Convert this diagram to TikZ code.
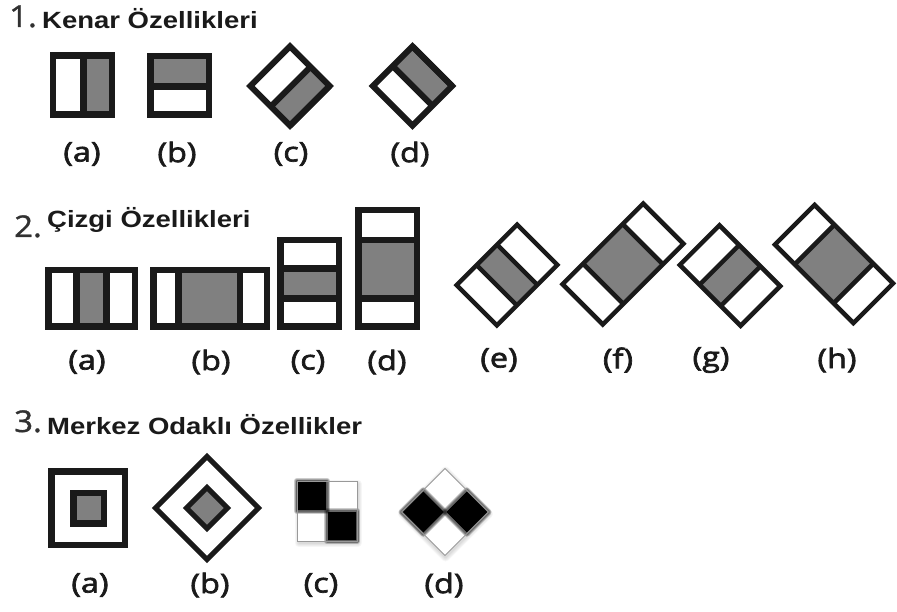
\documentclass[tikz,border=0pt]{standalone}
\usepackage{fontspec}
\newfontfamily\headfont[FakeStretch=1.17]{Liberation Sans Bold}
\newfontfamily\capfont[FakeStretch=1.2,FakeBold=2.5]{Open Sans}
\newfontfamily\numfont[FakeStretch=1.1,FakeBold=1.2]{Open Sans}
\definecolor{ink}{HTML}{1A1A1A}
\definecolor{midgray}{HTML}{808080}

\tikzset{
  heading/.style={anchor=base west, inner sep=0pt, text=ink,
    font=\headfont\fontsize{23.5}{26}\selectfont},
  secnum/.style={anchor=base west, inner sep=0pt, text=ink!90,
    font=\numfont\fontsize{30}{32}\selectfont},
  caption/.style={inner sep=0pt, text=ink, font=\capfont\fontsize{27}{30}\selectfont},
  frame/.style={draw=ink, line join=miter},
  softedge/.style={black, opacity=0.2, line join=round},
  shade/.style={black, opacity=0.035, line join=round},
}

% rectangle split into white | gray | white bands
% #1,#2 centre  #3 angle  #4 length  #5 width  #6,#7 cuts  #8 line width
\newcommand{\bandbox}[8]{%
  \begin{scope}[shift={(#1,#2)},rotate=#3]
    \fill[white] (-#4/2,-#5/2) rectangle (#4/2,#5/2);
    \fill[midgray] (#6,-#5/2) rectangle (#7,#5/2);
    \draw[frame,line width=#8] (-#4/2,-#5/2) rectangle (#4/2,#5/2);
    \draw[frame,line width=#8] (#6,-#5/2) -- (#6,#5/2) (#7,-#5/2) -- (#7,#5/2);
  \end{scope}}
% square split into a white half and a gray half
% #1,#2 centre  #3 angle  #4 side  #5 cut  #6 line width
\newcommand{\halfbox}[6]{\bandbox{#1}{#2}{#3}{#4}{#4}{#5}{#4/2}{#6}}
% diamond outline through the four points at distance #3 from (#1,#2)
\newcommand{\rhombus}[3]{(#1,#2-#3) -- (#1+#3,#2) -- (#1,#2+#3) -- (#1-#3,#2) -- cycle}

\begin{document}
\begin{tikzpicture}[x=1pt,y=-1pt]
\useasboundingbox (0,0) rectangle (897,612);
\fill[white] (0,0) rectangle (897,612);

% ---------- 1. edge features ----------
\node[secnum] (n1) at (9,27) {1.};
\node[heading] (t1) at (42,29) {Kenar Özellikleri};
\halfbox{82.5}{85}{0}{59}{1}{6.5}
\halfbox{179.5}{85.5}{90}{58.5}{-1}{6.5}
\halfbox{290}{86}{-45}{56}{1}{6}
\halfbox{412.5}{86}{45}{56}{0}{6}
\node[caption] (e1a) at (82,154) {(a)};
\node[caption] (e1b) at (177,154) {(b)};
\node[caption] (e1c) at (291,154) {(c)};
\node[caption] (e1d) at (410,154) {(d)};

% ---------- 2. line features ----------
\node[secnum] (n2) at (14,237) {2.};
\node[heading] (t2) at (47,228) {Çizgi Özellikleri};
\bandbox{91.5}{298.5}{0}{86.5}{56.5}{-15}{15}{6.5}
\bandbox{210}{298.5}{0}{113.5}{56.5}{-31.5}{30}{6.5}
\bandbox{309.5}{283.5}{90}{86.5}{58.5}{-15}{15}{6.5}
\bandbox{387.5}{268.5}{90}{116.5}{58.5}{-30}{28.5}{6.5}
\bandbox{507}{275}{45}{85.5}{57}{-14.5}{14.5}{4.5}
\bandbox{623}{264}{45}{114}{57}{-28}{28}{4.5}
\bandbox{730}{275.5}{-45}{86}{56}{-15}{15}{4.5}
\bandbox{834}{264}{-45}{111}{56}{-27.5}{27.5}{4.5}
\node[caption] (l2a) at (87,362) {(a)};
\node[caption] (l2b) at (211,362) {(b)};
\node[caption] (l2c) at (308,362) {(c)};
\node[caption] (l2d) at (387,362) {(d)};
\node[caption] (l2e) at (499,360) {(e)};
\node[caption] (l2f) at (618,360) {(f)};
\node[caption] (l2g) at (711,360) {(g)};
\node[caption] (l2h) at (837,360) {(h)};

% ---------- 3. centre-surround features ----------
\node[secnum] (n3) at (14,432) {3.};
\node[heading] (t3) at (47,434) {Merkez Odaklı Özellikler};
% nested squares
\draw[frame,line width=6.5] (88-36.75,508-36.75) rectangle (88+36.75,508+36.75);
\draw[frame,fill=midgray,line width=6.5] (88.5-15.25,508-15.25) rectangle (88.5+15.25,508+15.25);
% nested diamonds
\draw[frame,line width=5] \rhombus{207}{508}{51.5};
\draw[frame,fill=midgray,line width=5] \rhombus{207}{508}{20.5};

% soft checkerboard square: faint drop shadow, white cells, blurred black cells
\foreach \w in {8,6,4,2} {
  \draw[shade,line width=\w pt] (298.5,483.5) rectangle (357.5,543);
}
\fill[white] (297,481) rectangle (357,541);
\foreach \w in {6,4.5,3,1.5} {
  \draw[softedge,line width=\w pt] (297,481) rectangle (327,511);
  \draw[softedge,line width=\w pt] (327,511) rectangle (357,541);
}
\fill[black] (298,482) rectangle (326,510) (328,512) rectangle (356,540);
\draw[black!40,line width=1] (297,481) rectangle (357,541);

% soft checkerboard diamond
\foreach \w in {8,6,4,2} {
  \draw[shade,line width=\w pt] \rhombus{445.5}{514}{43.5};
}
\fill[white] \rhombus{445}{512}{43.5};
\foreach \w in {6,4.5,3,1.5} {
  \draw[softedge,line width=\w pt] \rhombus{423.25}{512}{21.75};
  \draw[softedge,line width=\w pt] \rhombus{466.75}{512}{21.75};
}
\fill[black] \rhombus{423.25}{512}{20.5};
\fill[black] \rhombus{466.75}{512}{20.5};
\draw[black!40,line width=1] \rhombus{445}{512}{43.5};

\node[caption] (l3a) at (90,585) {(a)};
\node[caption] (l3b) at (210,585) {(b)};
\node[caption] (l3c) at (321,585) {(c)};
\node[caption] (l3d) at (444,585) {(d)};
\end{tikzpicture}
\end{document}
